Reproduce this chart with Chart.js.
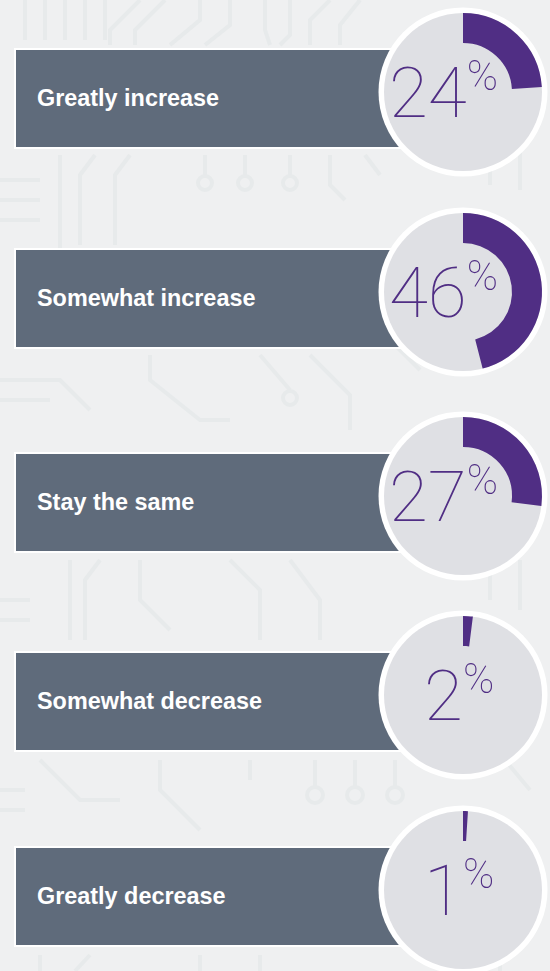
<!DOCTYPE html>
<html>
<head>
<meta charset="utf-8">
<script src="https://cdn.jsdelivr.net/npm/chart.js@4.4.1/dist/chart.umd.min.js"></script>
<style>
  html, body { margin: 0; padding: 0; }
  body { width: 550px; height: 971px; overflow: hidden; background: #eff0f1; position: relative; }
  #stage { position: absolute; left: 0; top: 0; width: 550px; height: 971px; overflow: hidden; }
  #bg { position: absolute; left: 0; top: 0; z-index: 0; }
  .bar { position: absolute; left: 14px; width: 400px; height: 97px; background: #5f6b7b; border: 2px solid #ffffff;
         display: flex; align-items: center; box-sizing: content-box; z-index: 1; }
  .bar span { margin-left: 21px; color: #ffffff; font-family: "Liberation Sans", Arial, Helvetica, sans-serif;
              font-weight: bold; font-size: 23.4px; white-space: nowrap; }
  canvas.ring { position: absolute; z-index: 2; }
  .pct { position: absolute; z-index: 3; white-space: nowrap; line-height: 1; color: #502e84;
         font-family: Roboto, Inter, Lato, sans-serif; font-weight: 100; font-size: 71px; }
  .pct .sign { font-size: 42px; vertical-align: top; line-height: 1; position: relative; top: -2px; }
</style>
</head>
<body>
<div id="stage">
<svg id="bg" width="550" height="971" viewBox="0 0 550 971" fill="none" stroke="#e7eaeb" stroke-width="4">
  <!-- faint circuit-board decoration -->
  <path d="M25 0 V40 M45 0 V40 M65 0 V40 M85 0 V40 M105 0 V40"/>
  <path d="M140 0 L110 30 V45 M165 0 L135 30 V45"/>
  <path d="M200 0 V20 L170 45 M230 0 V25 L205 45"/>
  <path d="M290 0 V35 L280 45 M330 0 L310 20 V45 M360 0 L340 25 V45"/>
  <path d="M265 0 V30 L270 45"/>
  <path d="M60 155 V250 M95 155 L80 175 V245 M130 155 L115 175 V245"/>
  <path d="M205 155 V175 M245 155 V175 M290 155 V175"/>
  <circle cx="205" cy="183" r="7"/><circle cx="245" cy="183" r="7"/><circle cx="290" cy="183" r="7"/>
  <path d="M330 155 V185 L345 200 M365 155 L380 175"/>
  <path d="M0 180 H40 M0 200 H40 M0 220 H40"/>
  <path d="M150 355 V380 L200 420 H230 M260 355 L290 390 M310 355 L350 395 V430"/>
  <circle cx="290" cy="398" r="7"/>
  <path d="M380 330 L420 370 M410 330 L440 360"/>
  <path d="M0 380 H60 L90 410 M0 400 H50"/>
  <path d="M70 560 V640 M100 560 L85 580 V640 M140 560 V600 L170 630"/>
  <path d="M230 560 L260 590 V640 M290 560 L320 600 V640"/>
  <path d="M0 600 H30 M0 620 H30"/>
  <path d="M40 760 L80 800 H120 M160 760 V790 L200 830 M250 760 V780"/>
  <circle cx="315" cy="795" r="8"/><circle cx="355" cy="795" r="8"/><circle cx="395" cy="795" r="8"/>
  <path d="M315 760 V787 M355 760 V787 M395 760 V787"/>
  <path d="M0 790 H25 M0 810 H25"/>
  <path d="M40 955 V971 M90 955 L75 971 M200 955 V971 M260 955 V971"/>
  <path d="M440 955 V971 M470 955 V971 M500 955 V971"/>
  <path d="M490 560 V600 M520 560 V610 M505 760 L530 790"/>
  <path d="M490 150 V185 M520 150 V190"/>
</svg>
</div>
<script>
// ---- data ----
const categories = ["Greatly increase", "Somewhat increase", "Stay the same", "Somewhat decrease", "Greatly decrease"];
const shares = [24, 46, 27, 2, 1];

// ---- layout (positions, not data) ----
const rowTop = [48, 248, 452, 651, 846];   // top of each label box
const ringOffsetY = 44;                     // ring centre below box top
const ringCx = 463;
const canvasSize = 180;

const PURPLE = "#502e84";
const DISC = "#dfe0e4";

const discPlugin = {
  id: "disc",
  beforeDatasetsDraw(chart) {
    const arc = chart.getDatasetMeta(0).data[0];
    if (!arc) return;
    const { x, y, outerRadius } = arc.getProps(["x", "y", "outerRadius"], true);
    const c = chart.ctx;
    c.save();
    c.beginPath(); c.arc(x, y, outerRadius + 5.5, 0, Math.PI * 2); c.fillStyle = "#ffffff"; c.fill();
    c.beginPath(); c.arc(x, y, outerRadius, 0, Math.PI * 2); c.fillStyle = DISC; c.fill();
    c.restore();
  }
};

const stage = document.getElementById("stage");
categories.forEach((label, i) => {
  const top = rowTop[i];
  const bar = document.createElement("div");
  bar.className = "bar";
  bar.style.top = top + "px";
  const s = document.createElement("span");
  s.textContent = label;
  bar.appendChild(s);
  stage.appendChild(bar);

  const cy = top + ringOffsetY;
  const cv = document.createElement("canvas");
  cv.className = "ring";
  cv.width = canvasSize; cv.height = canvasSize;
  cv.style.width = canvasSize + "px"; cv.style.height = canvasSize + "px";
  cv.style.left = (ringCx - canvasSize / 2) + "px";
  cv.style.top = (cy - canvasSize / 2) + "px";
  stage.appendChild(cv);

  new Chart(cv.getContext("2d"), {
    type: "doughnut",
    data: {
      labels: [label, "other"],
      datasets: [{
        data: [shares[i], 100 - shares[i]],
        backgroundColor: [PURPLE, "rgba(0,0,0,0)"],
        borderWidth: 0
      }]
    },
    options: {
      responsive: false,
      animation: false,
      events: [],
      radius: 79,
      cutout: "62%",
      rotation: 0,
      layout: { padding: 0 },
      plugins: { legend: { display: false }, tooltip: { enabled: false } }
    },
    plugins: [discPlugin]
  });

  const p = document.createElement("div");
  p.className = "pct";
  const n = document.createElement("span");
  n.textContent = String(shares[i]);
  const sg = document.createElement("span");
  sg.className = "sign";
  sg.textContent = "%";
  p.appendChild(n); p.appendChild(sg);
  stage.appendChild(p);
  const w = p.offsetWidth;
  const left = Math.min(ringCx - 4 - w / 2, ringCx + 35 - w);
  p.style.left = left + "px";
  p.style.top = (cy - 35) + "px";
});
</script>
</body>
</html>
